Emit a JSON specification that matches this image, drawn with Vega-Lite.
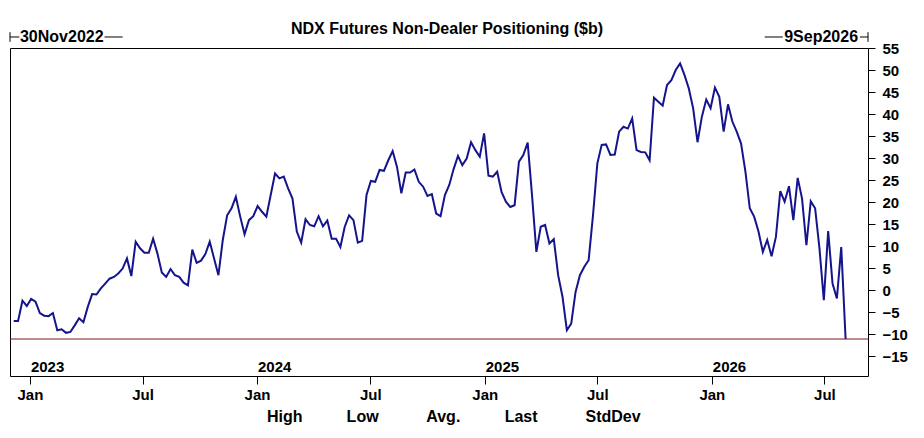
{
  "$schema": "https://vega.github.io/schema/vega-lite/v6.json",
  "autosize": {"type": "none"},
  "width": 858,
  "height": 328,
  "padding": {"left": 10, "top": 48, "right": 56, "bottom": 62},
  "background": "white",
  "title": {
    "text": "NDX Futures Non-Dealer Positioning ($b)",
    "font": "Liberation Sans",
    "fontSize": 16,
    "fontWeight": "bold",
    "color": "black",
    "anchor": "middle",
    "frame": "group",
    "baseline": "alphabetic",
    "dx": 8,
    "offset": -21
  },
  "config": {
    "font": "Liberation Sans",
    "view": {"stroke": "black", "strokeWidth": 1},
    "axis": {
      "grid": false,
      "domain": false,
      "tickColor": "black",
      "labelColor": "black",
      "labelFont": "Liberation Sans",
      "labelFontSize": 15,
      "labelFontWeight": "bold",
      "labelOverlap": false,
      "labelFlush": false
    }
  },
  "layer": [
    {
      "data": {
        "values": [
          {"d": "2022-12-06", "v": -7.0}, {"d": "2022-12-13", "v": -7.0}, {"d": "2022-12-20", "v": -2.4}, {"d": "2022-12-27", "v": -3.6},
          {"d": "2023-01-03", "v": -2.0}, {"d": "2023-01-10", "v": -2.6}, {"d": "2023-01-17", "v": -5.2}, {"d": "2023-01-24", "v": -5.8},
          {"d": "2023-01-31", "v": -5.9}, {"d": "2023-02-07", "v": -5.2}, {"d": "2023-02-14", "v": -9.1}, {"d": "2023-02-21", "v": -8.9},
          {"d": "2023-02-28", "v": -9.7}, {"d": "2023-03-07", "v": -9.5}, {"d": "2023-03-14", "v": -8.0}, {"d": "2023-03-21", "v": -6.4},
          {"d": "2023-03-28", "v": -7.3}, {"d": "2023-04-04", "v": -3.8}, {"d": "2023-04-11", "v": -0.9}, {"d": "2023-04-18", "v": -1.0},
          {"d": "2023-04-25", "v": 0.4}, {"d": "2023-05-02", "v": 1.5}, {"d": "2023-05-09", "v": 2.6}, {"d": "2023-05-16", "v": 3.0},
          {"d": "2023-05-23", "v": 3.8}, {"d": "2023-05-30", "v": 4.9}, {"d": "2023-06-06", "v": 7.2}, {"d": "2023-06-13", "v": 3.2},
          {"d": "2023-06-20", "v": 11.0}, {"d": "2023-06-27", "v": 9.5}, {"d": "2023-07-04", "v": 8.5}, {"d": "2023-07-11", "v": 8.5},
          {"d": "2023-07-18", "v": 11.7}, {"d": "2023-07-25", "v": 8.3}, {"d": "2023-08-01", "v": 4.0}, {"d": "2023-08-08", "v": 3.0},
          {"d": "2023-08-15", "v": 4.8}, {"d": "2023-08-22", "v": 3.4}, {"d": "2023-08-29", "v": 3.0}, {"d": "2023-09-05", "v": 1.7},
          {"d": "2023-09-12", "v": 1.1}, {"d": "2023-09-19", "v": 9.2}, {"d": "2023-09-26", "v": 6.2}, {"d": "2023-10-03", "v": 6.7},
          {"d": "2023-10-10", "v": 8.2}, {"d": "2023-10-17", "v": 11.0}, {"d": "2023-10-24", "v": 7.2}, {"d": "2023-10-31", "v": 3.4},
          {"d": "2023-11-07", "v": 11.4}, {"d": "2023-11-14", "v": 17.0}, {"d": "2023-11-21", "v": 18.6}, {"d": "2023-11-28", "v": 21.2},
          {"d": "2023-12-05", "v": 16.7}, {"d": "2023-12-12", "v": 12.7}, {"d": "2023-12-19", "v": 15.9}, {"d": "2023-12-26", "v": 16.8},
          {"d": "2024-01-02", "v": 19.1}, {"d": "2024-01-09", "v": 17.8}, {"d": "2024-01-16", "v": 16.7}, {"d": "2024-01-23", "v": 21.6},
          {"d": "2024-01-30", "v": 26.5}, {"d": "2024-02-06", "v": 25.4}, {"d": "2024-02-13", "v": 25.8}, {"d": "2024-02-20", "v": 23.1},
          {"d": "2024-02-27", "v": 20.8}, {"d": "2024-03-05", "v": 13.3}, {"d": "2024-03-12", "v": 10.8}, {"d": "2024-03-19", "v": 16.1},
          {"d": "2024-03-26", "v": 14.8}, {"d": "2024-04-02", "v": 14.5}, {"d": "2024-04-09", "v": 16.8}, {"d": "2024-04-16", "v": 14.5},
          {"d": "2024-04-23", "v": 15.8}, {"d": "2024-04-30", "v": 11.7}, {"d": "2024-05-07", "v": 11.7}, {"d": "2024-05-14", "v": 9.8},
          {"d": "2024-05-21", "v": 14.4}, {"d": "2024-05-28", "v": 17.0}, {"d": "2024-06-04", "v": 15.9}, {"d": "2024-06-11", "v": 10.8},
          {"d": "2024-06-18", "v": 11.2}, {"d": "2024-06-25", "v": 21.6}, {"d": "2024-07-02", "v": 24.8}, {"d": "2024-07-09", "v": 24.6},
          {"d": "2024-07-16", "v": 27.3}, {"d": "2024-07-23", "v": 27.1}, {"d": "2024-07-30", "v": 29.5}, {"d": "2024-08-06", "v": 31.6},
          {"d": "2024-08-13", "v": 28.0}, {"d": "2024-08-20", "v": 22.0}, {"d": "2024-08-27", "v": 26.7}, {"d": "2024-09-03", "v": 26.7},
          {"d": "2024-09-10", "v": 27.4}, {"d": "2024-09-17", "v": 24.6}, {"d": "2024-09-24", "v": 23.5}, {"d": "2024-10-01", "v": 21.4},
          {"d": "2024-10-08", "v": 21.8}, {"d": "2024-10-15", "v": 17.4}, {"d": "2024-10-22", "v": 16.8}, {"d": "2024-10-29", "v": 21.6},
          {"d": "2024-11-05", "v": 23.9}, {"d": "2024-11-12", "v": 27.5}, {"d": "2024-11-19", "v": 30.5}, {"d": "2024-11-26", "v": 28.4},
          {"d": "2024-12-03", "v": 29.9}, {"d": "2024-12-10", "v": 33.6}, {"d": "2024-12-17", "v": 31.8}, {"d": "2024-12-24", "v": 30.3},
          {"d": "2024-12-31", "v": 35.6}, {"d": "2025-01-07", "v": 26.0}, {"d": "2025-01-14", "v": 25.8}, {"d": "2025-01-21", "v": 26.9},
          {"d": "2025-01-28", "v": 22.3}, {"d": "2025-02-04", "v": 20.1}, {"d": "2025-02-11", "v": 18.9}, {"d": "2025-02-18", "v": 19.3},
          {"d": "2025-02-25", "v": 29.2}, {"d": "2025-03-04", "v": 30.7}, {"d": "2025-03-11", "v": 33.5}, {"d": "2025-03-18", "v": 21.6},
          {"d": "2025-03-25", "v": 8.7}, {"d": "2025-04-01", "v": 14.4}, {"d": "2025-04-08", "v": 14.8}, {"d": "2025-04-15", "v": 10.6},
          {"d": "2025-04-22", "v": 11.6}, {"d": "2025-04-29", "v": 3.4}, {"d": "2025-05-06", "v": -1.5}, {"d": "2025-05-13", "v": -9.1},
          {"d": "2025-05-20", "v": -7.6}, {"d": "2025-05-27", "v": -0.4}, {"d": "2025-06-03", "v": 3.4}, {"d": "2025-06-10", "v": 5.3},
          {"d": "2025-06-17", "v": 6.8}, {"d": "2025-06-24", "v": 17.0}, {"d": "2025-07-01", "v": 28.8}, {"d": "2025-07-08", "v": 33.0},
          {"d": "2025-07-15", "v": 33.1}, {"d": "2025-07-22", "v": 30.7}, {"d": "2025-07-29", "v": 30.8}, {"d": "2025-08-05", "v": 36.0},
          {"d": "2025-08-12", "v": 37.1}, {"d": "2025-08-19", "v": 36.7}, {"d": "2025-08-26", "v": 39.0}, {"d": "2025-09-02", "v": 31.8},
          {"d": "2025-09-09", "v": 31.4}, {"d": "2025-09-16", "v": 31.3}, {"d": "2025-09-23", "v": 29.5}, {"d": "2025-09-30", "v": 43.7},
          {"d": "2025-10-07", "v": 42.8}, {"d": "2025-10-14", "v": 41.9}, {"d": "2025-10-21", "v": 46.6}, {"d": "2025-10-28", "v": 47.7},
          {"d": "2025-11-04", "v": 50.0}, {"d": "2025-11-11", "v": 51.5}, {"d": "2025-11-18", "v": 48.9}, {"d": "2025-11-25", "v": 45.8},
          {"d": "2025-12-02", "v": 41.3}, {"d": "2025-12-09", "v": 33.6}, {"d": "2025-12-16", "v": 39.4}, {"d": "2025-12-23", "v": 43.3},
          {"d": "2025-12-30", "v": 41.3}, {"d": "2026-01-06", "v": 46.0}, {"d": "2026-01-13", "v": 43.9}, {"d": "2026-01-20", "v": 36.0},
          {"d": "2026-01-27", "v": 42.2}, {"d": "2026-02-03", "v": 38.3}, {"d": "2026-02-10", "v": 36.0}, {"d": "2026-02-17", "v": 33.3},
          {"d": "2026-02-24", "v": 26.9}, {"d": "2026-03-03", "v": 18.6}, {"d": "2026-03-10", "v": 16.7}, {"d": "2026-03-17", "v": 13.3},
          {"d": "2026-03-24", "v": 8.7}, {"d": "2026-03-31", "v": 11.4}, {"d": "2026-04-07", "v": 7.7}, {"d": "2026-04-14", "v": 12.1},
          {"d": "2026-04-21", "v": 22.5}, {"d": "2026-04-28", "v": 20.1}, {"d": "2026-05-05", "v": 23.6}, {"d": "2026-05-12", "v": 15.9},
          {"d": "2026-05-19", "v": 25.5}, {"d": "2026-05-26", "v": 20.8}, {"d": "2026-06-02", "v": 10.2}, {"d": "2026-06-09", "v": 20.2},
          {"d": "2026-06-16", "v": 18.6}, {"d": "2026-06-23", "v": 9.5}, {"d": "2026-06-30", "v": -2.3}, {"d": "2026-07-07", "v": 13.4},
          {"d": "2026-07-14", "v": 1.5}, {"d": "2026-07-21", "v": -1.9}, {"d": "2026-07-28", "v": 9.8}, {"d": "2026-08-04", "v": -11.1}
        ]
      },
      "mark": {"type": "line", "color": "#14148c", "strokeWidth": 2, "clip": true},
      "encoding": {
        "x": {
          "field": "d",
          "type": "temporal",
          "title": null,
          "scale": {
            "type": "utc",
            "domain": [
              {"year": 2022, "month": 11, "date": 30, "utc": true},
              {"year": 2026, "month": 9, "date": 9, "utc": true}
            ]
          },
          "axis": {
            "orient": "bottom",
            "values": [
              {"year": 2023, "month": 1, "date": 1, "utc": true},
              {"year": 2023, "month": 7, "date": 1, "utc": true},
              {"year": 2024, "month": 1, "date": 1, "utc": true},
              {"year": 2024, "month": 7, "date": 1, "utc": true},
              {"year": 2025, "month": 1, "date": 1, "utc": true},
              {"year": 2025, "month": 7, "date": 1, "utc": true},
              {"year": 2026, "month": 1, "date": 1, "utc": true},
              {"year": 2026, "month": 7, "date": 1, "utc": true}
            ],
            "format": "%b",
            "tickCount": 20,
            "tickSize": 8,
            "labelPadding": 3
          }
        },
        "y": {
          "field": "v",
          "type": "quantitative",
          "title": null,
          "scale": {"domain": [-19.5, 55], "nice": false, "zero": false},
          "axis": {
            "orient": "right",
            "values": [-15, -10, -5, 0, 5, 10, 15, 20, 25, 30, 35, 40, 45, 50, 55],
            "tickCount": 20,
            "tickSize": 7,
            "labelPadding": 7,
            "labelAlign": "left",
            "labelBaseline": "middle",
            "labelBound": false
          }
        }
      }
    },
    {
      "data": {"values": [{"last": -11.1}]},
      "mark": {"type": "rule", "color": "#7e1818", "strokeWidth": 1},
      "encoding": {
        "y": {"field": "last", "type": "quantitative", "title": null}
      }
    },
    {
      "data": {
        "values": [
          {"d": "2023-01-01", "label": "2023"},
          {"d": "2024-01-01", "label": "2024"},
          {"d": "2025-01-01", "label": "2025"},
          {"d": "2026-01-01", "label": "2026"}
        ]
      },
      "mark": {"type": "text", "align": "left", "baseline": "alphabetic", "dx": 1, "fontSize": 15, "fontWeight": "bold", "color": "black"},
      "encoding": {
        "x": {"field": "d", "type": "temporal", "title": null},
        "y": {"datum": -18.6, "type": "quantitative", "title": null},
        "text": {"field": "label"}
      }
    },
    {
      "data": {
        "values": [
          {"d": "2024-01-17", "label": "High"},
          {"d": "2024-05-24", "label": "Low"},
          {"d": "2024-09-29", "label": "Avg."},
          {"d": "2025-02-02", "label": "Last"},
          {"d": "2025-06-12", "label": "StdDev"}
        ]
      },
      "mark": {"type": "text", "align": "left", "baseline": "alphabetic", "fontSize": 16, "fontWeight": "bold", "color": "black"},
      "encoding": {
        "x": {"field": "d", "type": "temporal", "title": null},
        "y": {"datum": -30, "type": "quantitative", "title": null},
        "text": {"field": "label"}
      }
    },
    {
      "data": {"values": [{"d": "2022-12-16", "label": "30Nov2022"}]},
      "mark": {"type": "text", "align": "left", "baseline": "alphabetic", "fontSize": 16, "fontWeight": "bold", "color": "black"},
      "encoding": {
        "x": {"field": "d", "type": "temporal", "title": null},
        "y": {"datum": 56.25, "type": "quantitative", "title": null},
        "text": {"field": "label"}
      }
    },
    {
      "data": {"values": [{"d": "2026-08-24", "label": "9Sep2026"}]},
      "mark": {"type": "text", "align": "right", "baseline": "alphabetic", "fontSize": 16, "fontWeight": "bold", "color": "black"},
      "encoding": {
        "x": {"field": "d", "type": "temporal", "title": null},
        "y": {"datum": 56.25, "type": "quantitative", "title": null},
        "text": {"field": "label"}
      }
    },
    {
      "data": {
        "values": [
          {"d": "2022-11-30", "d2": "2022-11-30", "v": 58.6, "v2": 56.4},
          {"d": "2022-11-30", "d2": "2022-12-15", "v": 57.5, "v2": 57.5},
          {"d": "2023-05-01", "d2": "2023-05-30", "v": 57.5, "v2": 57.5},
          {"d": "2026-03-27", "d2": "2026-04-25", "v": 57.5, "v2": 57.5},
          {"d": "2026-08-27", "d2": "2026-09-09", "v": 57.5, "v2": 57.5},
          {"d": "2026-09-09", "d2": "2026-09-09", "v": 58.6, "v2": 56.4}
        ]
      },
      "mark": {"type": "rule", "color": "black", "strokeWidth": 1},
      "encoding": {
        "x": {"field": "d", "type": "temporal", "title": null},
        "x2": {"field": "d2"},
        "y": {"field": "v", "type": "quantitative", "title": null},
        "y2": {"field": "v2"}
      }
    }
  ]
}
